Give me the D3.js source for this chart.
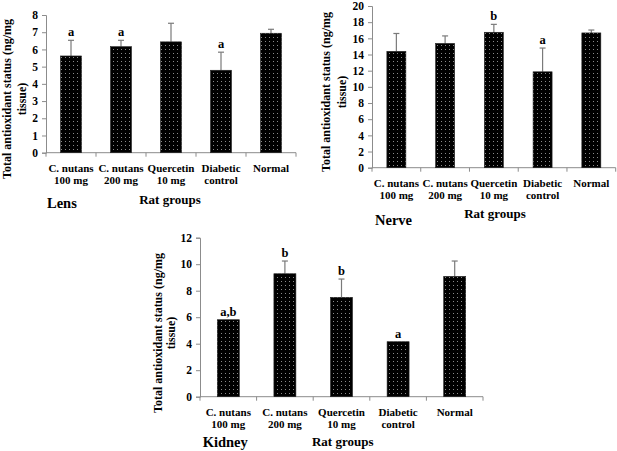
<!DOCTYPE html>
<html><head><meta charset="utf-8">
<script src="https://cdn.jsdelivr.net/npm/d3@7"></script>
<style>
body{margin:0;background:#fff;}
svg text{font-family:"Liberation Serif","Times New Roman",serif;font-weight:bold;fill:#000;}
</style></head>
<body><svg id="c" width="617" height="451"></svg>
<script>
const categories = [["C. nutans","100 mg"],["C. nutans","200 mg"],["Quercetin","10 mg"],["Diabetic","control"],["Normal"]];
const lensValues = [5.62, 6.16, 6.44, 4.79, 6.94];
const lensErrors = [0.91, 0.37, 1.08, 1.05, 0.23];
const lensLetters = ["a","a","","a",""];
const nerveValues = [14.39, 15.37, 16.75, 11.86, 16.67];
const nerveErrors = [2.21, 0.93, 0.98, 2.94, 0.36];
const nerveLetters = ["","","b","a",""];
const kidneyValues = [5.81, 9.28, 7.5, 4.15, 9.08];
const kidneyErrors = [0, 0.96, 1.38, 0, 1.16];
const kidneyLetters = ["a,b","b","b","a",""];
const lensTicks = [0,1,2,3,4,5,6,7,8];
const nerveTicks = [0,2,4,6,8,10,12,14,16,18,20];
const kidneyTicks = [0,2,4,6,8,10,12];
const yTitle = ["Total antioxidant status (ng/mg","tissue)"];
const xTitle = "Rat groups";

const svg = d3.select("#c");
const defs = svg.append("defs");
const pat = defs.append("pattern").attr("id","dots").attr("patternUnits","userSpaceOnUse")
  .attr("width",4).attr("height",4);
pat.append("rect").attr("width",4).attr("height",4).attr("fill","#000");
pat.append("rect").attr("x",1).attr("y",1).attr("width",1).attr("height",1).attr("fill","#8a8a8a");

function drawChart(o){
  const g = svg.append("g");
  const x = d3.scaleBand().domain(categories.map((d,i)=>i)).range([o.x0,o.x1]);
  const y = d3.scaleLinear().domain([0,o.yMax]).range([o.yBottom,o.yTop]);
  const ya = g.append("g").attr("transform",`translate(${o.x0},0)`)
    .call(d3.axisLeft(y).tickValues(o.ticks).tickSize(4).tickPadding(4).tickFormat(d3.format("d")));
  ya.select(".domain").attr("stroke","#8c8c8c");
  ya.selectAll(".tick line").attr("stroke","#8c8c8c");
  ya.selectAll(".tick text").attr("font-size",11.5).attr("font-family","Liberation Serif").attr("font-weight","bold").attr("fill","#000");
  const xa = g.append("g").attr("transform",`translate(0,${o.yBottom})`);
  xa.append("line").attr("x1",o.x0).attr("x2",o.x1).attr("y1",0).attr("y2",0).attr("stroke","#8c8c8c");
  const bounds = categories.map((d,i)=>x(i)).concat([o.x1]);
  xa.selectAll("line.t").data(bounds).join("line").attr("class","t")
    .attr("x1",d=>d).attr("x2",d=>d).attr("y1",0).attr("y2",4).attr("stroke","#8c8c8c");
  const bw = o.barW;
  categories.forEach((c,i)=>{
    const cx = x(i)+x.bandwidth()/2;
    const v = o.values[i], e = o.errors[i];
    if(e>0){
      g.append("line").attr("x1",cx).attr("x2",cx).attr("y1",y(v)).attr("y2",y(v+e)).attr("stroke","#7a7a7a").attr("stroke-width",1.2);
      g.append("line").attr("x1",cx-3).attr("x2",cx+3).attr("y1",y(v+e)).attr("y2",y(v+e)).attr("stroke","#7a7a7a").attr("stroke-width",1.2);
    }
    g.append("rect").attr("x",cx-bw/2).attr("y",y(v)).attr("width",bw).attr("height",y(0)-y(v))
      .attr("fill","url(#dots)").attr("stroke","#222").attr("stroke-width",0.6);
    if(o.letters[i]){
      g.append("text").attr("x",cx).attr("y",y(v+e)-4).attr("text-anchor","middle").attr("font-size",12.5).text(o.letters[i]);
    }
    c.forEach((line,j)=>{
      g.append("text").attr("x",cx).attr("y",o.yBottom+19.5+j*11.5).attr("text-anchor","middle").attr("font-size",11).text(line);
    });
  });
  yTitle.forEach((t,j)=>{
    g.append("text").attr("transform",`translate(${o.titleX[j]},${o.titleY}) rotate(-90)`)
      .attr("text-anchor","middle").attr("dominant-baseline","central").attr("font-size",12).text(t);
  });
  g.append("text").attr("x",o.labelX).attr("y",o.labelY).attr("font-size",14.5).text(o.label);
  g.append("text").attr("x",o.xtX).attr("y",o.xtY).attr("text-anchor","middle").attr("font-size",13).text(xTitle);
}

drawChart({values:lensValues,errors:lensErrors,letters:lensLetters,ticks:lensTicks,yMax:8,
  x0:46,x1:296,yTop:15,yBottom:152.7,barW:21,titleX:[7,22],titleY:99,
  label:"Lens",labelX:47,labelY:208,xtX:170,xtY:204});
drawChart({values:nerveValues,errors:nerveErrors,letters:nerveLetters,ticks:nerveTicks,yMax:20,
  x0:372,x1:615.7,yTop:6,yBottom:167.7,barW:19,titleX:[326,342],titleY:92,
  label:"Nerve",labelX:375,labelY:225,xtX:495,xtY:218});
drawChart({values:kidneyValues,errors:kidneyErrors,letters:kidneyLetters,ticks:kidneyTicks,yMax:12,
  x0:200,x1:483,yTop:237.7,yBottom:396.7,barW:22,titleX:[158,171],titleY:333,
  label:"Kidney",labelX:202.7,labelY:447,xtX:342.7,xtY:446});
</script></body></html>
